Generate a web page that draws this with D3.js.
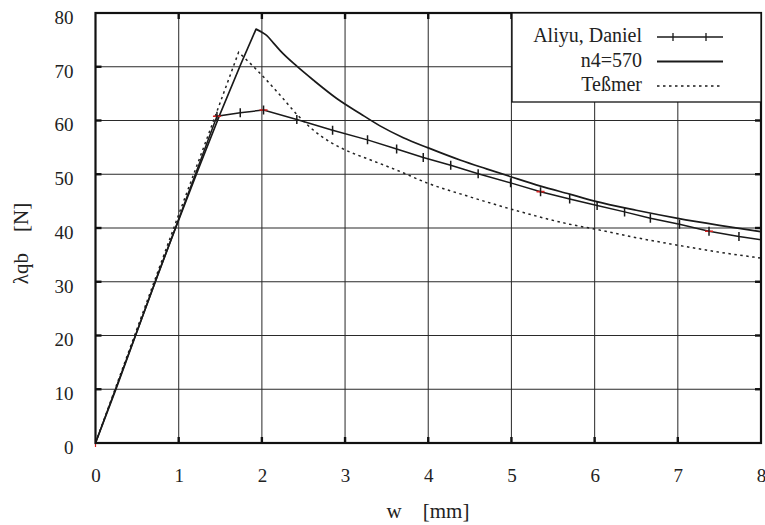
<!DOCTYPE html>
<html>
<head>
<meta charset="utf-8">
<script src="https://cdn.jsdelivr.net/npm/d3@7/dist/d3.min.js"></script>
<style>
  html, body { margin: 0; padding: 0; background: #fff; }
  svg { display: block; }
  svg text { font-family: "Times New Roman", "Liberation Serif", Times, serif !important; fill: #222; }
</style>
</head>
<body>
<svg id="chart" width="765" height="525"></svg>
<script>
// Load–deflection curves: w [mm] against λqb [N]
const xTicks = [0, 1, 2, 3, 4, 5, 6, 7, 8];
const yTicks = [0, 10, 20, 30, 40, 50, 60, 70, 80];

// Test series "Aliyu, Daniel" (measured points, shown with tick marks)
const aliyuW = [0, 1.46, 1.74, 2.02, 2.42, 2.85, 3.27, 3.62, 3.94, 4.27, 4.60, 4.99, 5.35, 5.70, 6.03, 6.36, 6.67, 7.02, 7.375, 7.735, 8.0];
const aliyuF = [0, 60.8, 61.45, 61.95, 60.2, 58.2, 56.4, 54.7, 53.1, 51.66, 50.1, 48.4, 46.76, 45.4, 44.2, 43.0, 41.8, 40.7, 39.4, 38.4, 37.8];
// points drawn with a red cross-bar
const aliyuRed = [0, 1, 3, 12, 18];

// Simulation "n4=570": linear rise to the peak, smooth softening afterwards
const simRiseW = [0, 0.25, 0.5, 0.75, 1.0, 1.25, 1.5, 1.75, 1.93];
const simRiseF = [0, 10.2, 20.8, 31.4, 41.5, 51.5, 61.3, 70.6, 77.0];
const simFallW = [1.93, 2.0, 2.06, 2.14, 2.22, 2.42, 2.62, 2.9, 3.18, 3.42, 3.7, 4.0, 4.39, 4.7, 5.0, 5.35, 5.7, 6.0, 6.5, 7.0, 7.5, 8.0];
const simFallF = [77.0, 76.4, 75.8, 74.4, 73.0, 70.1, 67.5, 64.1, 61.3, 59.0, 56.8, 54.9, 52.6, 51.0, 49.5, 47.8, 46.3, 45.0, 43.3, 41.8, 40.5, 39.3];

// Reference curve "Teßmer": rise to the peak, then softening branch
const tesRiseW = [0, 0.5, 1.0, 1.42, 1.72];
const tesRiseF = [0, 21.3, 42.5, 60.0, 72.7];
const tesFallW = [1.72, 1.94, 2.22, 2.42, 2.62, 2.82, 3.02, 3.3, 3.6, 4.0, 4.5, 5.0, 5.7, 6.0, 6.5, 7.0, 7.5, 8.0];
const tesFallF = [72.7, 69.4, 64.7, 61.15, 58.2, 56.0, 54.4, 52.7, 50.9, 48.3, 45.8, 43.5, 40.7, 39.8, 38.2, 36.8, 35.5, 34.4];

const legendLabels = ["Aliyu, Daniel", "n4=570", "Teßmer"];

const svg = d3.select("#chart");
const m = { left: 95.5, right: 761, top: 13, bottom: 443 };

const x = d3.scaleLinear().domain([0, 8]).range([m.left, m.right]);
const y = d3.scaleLinear().domain([0, 80]).range([m.bottom, m.top]);

// grid
const grid = svg.append("g");
grid.selectAll("line.v").data(xTicks.slice(1, -1)).join("line")
  .attr("x1", d => x(d)).attr("x2", d => x(d))
  .attr("y1", m.top).attr("y2", m.bottom)
  .attr("stroke", "#3a3a3a").attr("stroke-width", 1.1);
grid.selectAll("line.h").data(yTicks.slice(1, -1)).join("line")
  .attr("x1", m.left).attr("x2", m.right)
  .attr("y1", d => y(d)).attr("y2", d => y(d))
  .attr("stroke", "#2a2a2a").attr("stroke-width", 1.1);

// inward tick marks on all four sides
const tk = svg.append("g").attr("stroke", "#111").attr("stroke-width", 2.4);
xTicks.slice(1, -1).forEach(d => {
  tk.append("line").attr("x1", x(d)).attr("x2", x(d)).attr("y1", m.bottom).attr("y2", m.bottom - 6);
  tk.append("line").attr("x1", x(d)).attr("x2", x(d)).attr("y1", m.top).attr("y2", m.top + 6);
});
yTicks.slice(1, -1).forEach(d => {
  tk.append("line").attr("y1", y(d)).attr("y2", y(d)).attr("x1", m.left).attr("x2", m.left + 6);
  tk.append("line").attr("y1", y(d)).attr("y2", y(d)).attr("x1", m.right).attr("x2", m.right - 6);
});

// tick labels through d3 axes
const xAxis = svg.append("g").attr("transform", `translate(0,${m.bottom})`)
  .call(d3.axisBottom(x).tickValues(xTicks).tickFormat(d3.format("d")).tickSize(0).tickPadding(26));
const yAxis = svg.append("g").attr("transform", `translate(${m.left},0)`)
  .call(d3.axisLeft(y).tickValues(yTicks).tickFormat(d3.format("d")).tickSize(0).tickPadding(22));
[xAxis, yAxis].forEach(a => {
  a.attr("font-family", null).attr("font-size", null);
  a.select(".domain").remove();
  a.selectAll("text").attr("font-size", 19).attr("fill", "#222");
});
yAxis.selectAll("text").attr("dy", "0.55em");

// clipping
svg.append("clipPath").attr("id", "plotclip").append("rect")
  .attr("x", m.left).attr("y", m.top).attr("width", m.right - m.left).attr("height", m.bottom - m.top);
const plot = svg.append("g").attr("clip-path", "url(#plotclip)");

const line = d3.line().x(d => x(d[0])).y(d => y(d[1]));
const smooth = d3.line().x(d => x(d[0])).y(d => y(d[1])).curve(d3.curveMonotoneX);
const pairs = (ws, fs) => ws.map((w, i) => [w, fs[i]]);
// straight rise joined to a smoothed falling branch
const riseFall = (rise, fall) => line(rise) + smooth(fall).replace(/^M/, "L");

const aliData = pairs(aliyuW, aliyuF);

plot.append("path")
  .attr("d", riseFall(pairs(tesRiseW, tesRiseF), pairs(tesFallW, tesFallF)))
  .attr("fill", "none").attr("stroke", "#222").attr("stroke-width", 1.5)
  .attr("stroke-dasharray", "2.5,3.5");
plot.append("path")
  .attr("d", riseFall(pairs(simRiseW, simRiseF), pairs(simFallW, simFallF)))
  .attr("fill", "none").attr("stroke", "#1a1a1a").attr("stroke-width", 1.7)
  .attr("stroke-linejoin", "round");
plot.append("path").datum(aliData).attr("d", line)
  .attr("fill", "none").attr("stroke", "#1a1a1a").attr("stroke-width", 1.5);

// measurement markers
plot.selectAll("line.red").data(aliData.filter((d, i) => aliyuRed.includes(i))).join("line")
  .attr("x1", d => x(d[0]) - 4).attr("x2", d => x(d[0]) + 4)
  .attr("y1", d => y(d[1])).attr("y2", d => y(d[1]))
  .attr("stroke", "#d42020").attr("stroke-width", 1.6);
plot.selectAll("line.mk").data(aliData.slice(1, -1)).join("line")
  .attr("x1", d => x(d[0])).attr("x2", d => x(d[0]))
  .attr("y1", d => y(d[1]) - 4.5).attr("y2", d => y(d[1]) + 4.5)
  .attr("stroke", "#1a1a1a").attr("stroke-width", 1.5);
svg.append("line").attr("x1", x(0)).attr("x2", x(0)).attr("y1", y(0) - 4).attr("y2", y(0) + 4)
  .attr("stroke", "#d42020").attr("stroke-width", 1.2);

// frame
svg.append("rect").attr("x", m.left).attr("y", m.top)
  .attr("width", m.right - m.left).attr("height", m.bottom - m.top)
  .attr("fill", "none").attr("stroke", "#111").attr("stroke-width", 2.2);

// legend
const lg = svg.append("g");
lg.append("rect").attr("x", 512).attr("y", m.top).attr("width", m.right - 512).attr("height", 89)
  .attr("fill", "#fff").attr("stroke", "#111").attr("stroke-width", 1.3);
legendLabels.forEach((t, i) => {
  const by = 42 + i * 24.5;
  lg.append("text").attr("x", 642).attr("y", by).attr("text-anchor", "end")
    .attr("font-size", 20).text(t);
  const ly = by - 5;
  const ln = lg.append("line").attr("x1", 657).attr("x2", 723).attr("y1", ly).attr("y2", ly)
    .attr("stroke", "#1a1a1a");
  if (i === 0) {
    ln.attr("stroke-width", 1.3);
    [673, 706].forEach(px => lg.append("line").attr("x1", px).attr("x2", px)
      .attr("y1", ly - 4).attr("y2", ly + 4).attr("stroke", "#1a1a1a").attr("stroke-width", 1.3));
  } else if (i === 1) {
    ln.attr("stroke-width", 1.8);
  } else {
    ln.attr("stroke-width", 1.4).attr("stroke-dasharray", "2.5,3.5");
  }
});

// axis titles
svg.append("text").attr("x", 428).attr("y", 518).attr("text-anchor", "middle")
  .attr("font-size", 21).style("white-space", "pre").text("w    [mm]");
svg.append("text").attr("transform", "translate(28,243.5) rotate(-90)").attr("text-anchor", "middle")
  .attr("font-size", 21).style("white-space", "pre").text("λqb    [N]");
</script>
</body>
</html>
